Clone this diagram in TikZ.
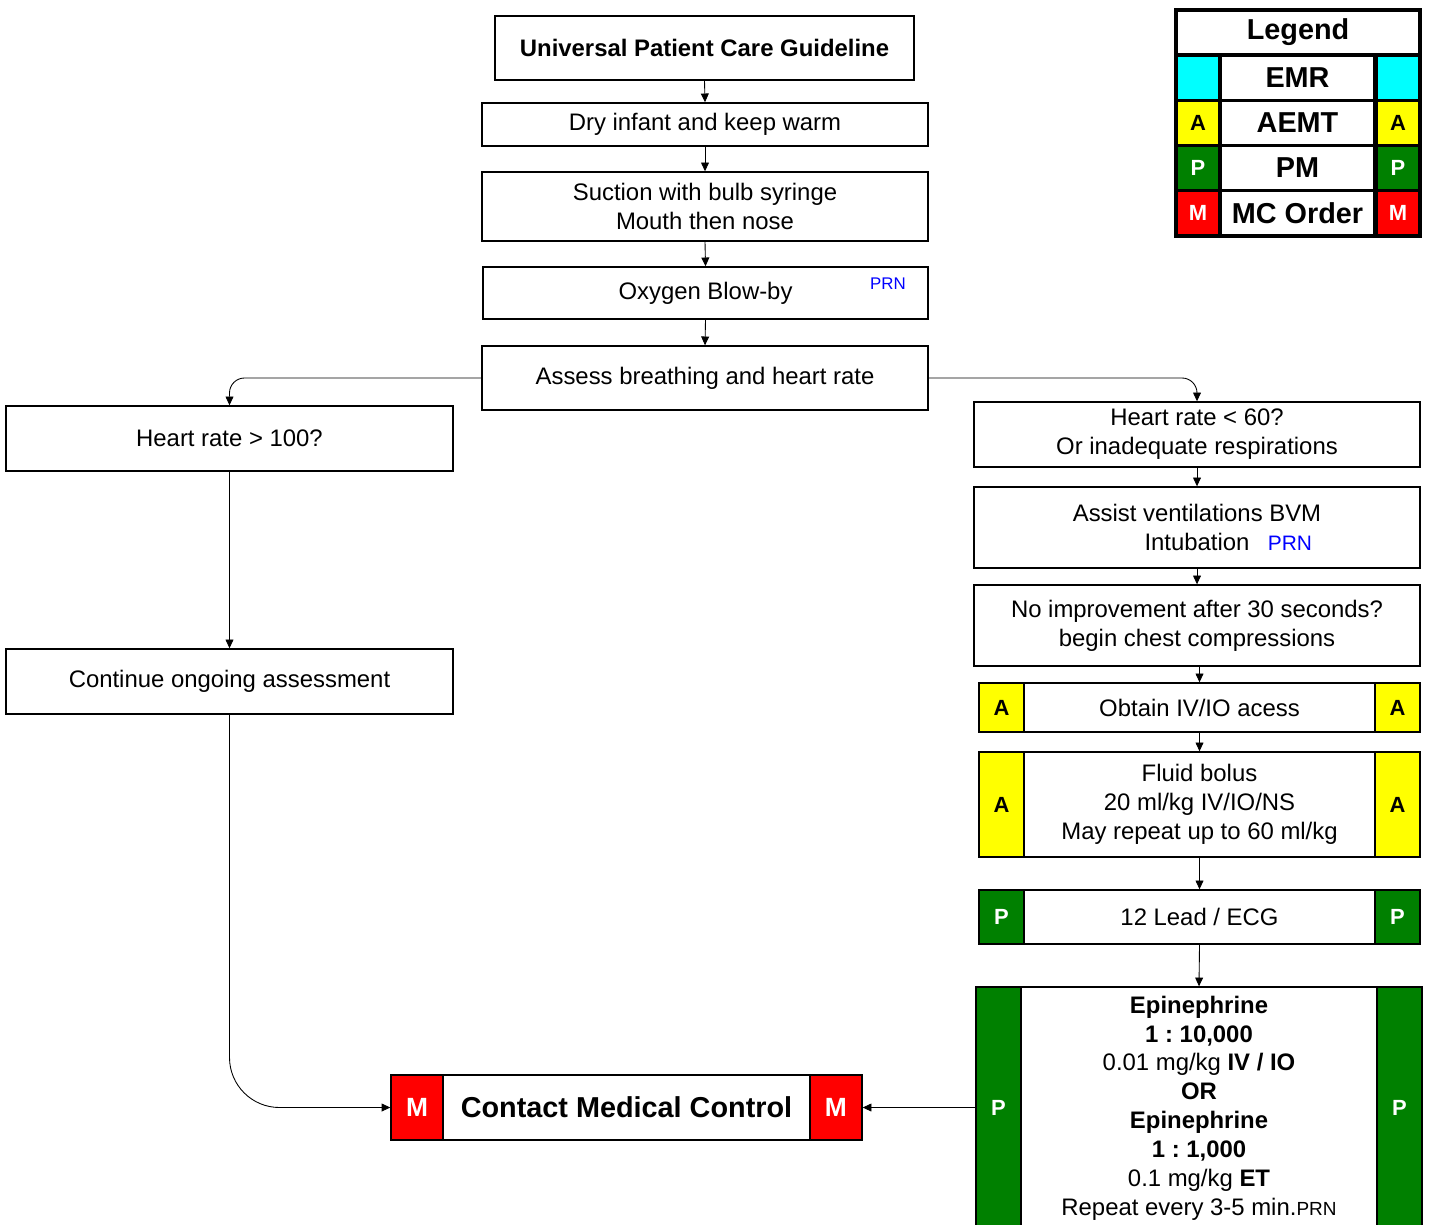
\documentclass[tikz,border=0pt]{standalone}
\usepackage{fontspec}
\setmainfont{Liberation Sans}
\usepackage{tikz}
\usetikzlibrary{arrows.meta}
\frenchspacing

\definecolor{emrcyan}{RGB}{0,255,255}
\definecolor{aemtyellow}{RGB}{255,255,0}
\definecolor{pmgreen}{RGB}{0,128,0}
\definecolor{mcred}{RGB}{255,0,0}
\definecolor{prnblue}{RGB}{0,0,255}

\newcommand{\basefont}{\fontsize{13.6}{16.4}\selectfont}
\newcommand{\bigfont}{\fontsize{16.4}{19.5}\selectfont\bfseries}
\newcommand{\tagfont}{\fontsize{12.5}{15}\selectfont\bfseries}
\newcommand{\prnfont}{\fontsize{9.6}{11}\selectfont}

\tikzset{
	box/.style = {draw, line width = 0.8pt, fill = white, align = center, font = \basefont, inner sep = 2pt},
	tag/.style = {draw, line width = 0.8pt, font = \tagfont, inner sep = 0pt},
	tagA/.style = {tag, fill = aemtyellow, text = black},
	tagP/.style = {tag, fill = pmgreen, text = white},
	tagM/.style = {tag, fill = mcred, text = white},
	arr/.style = {-{Triangle[length = 5pt, width = 4.5pt]}, line width = 0.5pt},
	prn/.style = {text = prnblue, inner sep = 0pt},
	legcell/.style = {fill = white, font = \bigfont, inner sep = 0pt, minimum width = 3.02cm, minimum height = 0.84cm},
	legtag/.style = {font = \tagfont, inner sep = 0pt, minimum width = 0.8cm, minimum height = 0.84cm}
}

\begin{document}
\begin{tikzpicture}[x = 0.02cm, y = -0.02cm]
\useasboundingbox (0,0) rectangle (1429,1224);

% centre column
\node[box, font = \basefont\bfseries, minimum width = 8.38cm, minimum height = 1.28cm] (guide) at (704.5,48) {Universal Patient Care Guideline};
\node[box, minimum width = 8.92cm, minimum height = 0.86cm] (dry) at (705,124.5) {Dry infant and keep warm};
\node[box, minimum width = 8.92cm, minimum height = 1.38cm] (suction) at (705,206.5) {Suction with bulb syringe\\Mouth then nose};
\node[box, minimum width = 8.9cm, minimum height = 1.04cm] (oxygen) at (705.5,293) {Oxygen Blow-by};
\node[prn, font = \prnfont] (oxyprn) at (888,284) {PRN};
\node[box, minimum width = 8.92cm, minimum height = 1.28cm] (assess) at (705,378) {Assess breathing and heart rate};

\draw[arr] (guide.south) -- (dry.north);
\draw[arr] (dry.south) -- (suction.north);
\draw[arr] (suction.south) -- (oxygen.north);
\draw[arr] (oxygen.south) -- (assess.north);

% left branch
\node[box, minimum width = 8.94cm, minimum height = 1.3cm] (hrhigh) at (229.5,438.5) {Heart rate > 100?};
\node[box, minimum width = 8.94cm, minimum height = 1.3cm] (cont) at (229.5,681.5) {Continue ongoing assessment};

\draw[arr, rounded corners = 0.3cm] (assess.west) -| (hrhigh.north);
\draw[arr] (hrhigh.south) -- (cont.north);

% right branch
\node[box, minimum width = 8.92cm, minimum height = 1.3cm] (hrlow) at (1197,434.5) {Heart rate < 60?\\Or inadequate respirations};
\node[box, minimum width = 8.92cm, minimum height = 1.62cm] (assist) at (1197,527.5) {Assist ventilations BVM\\Intubation};
\node[prn, font = \fontsize{11.9}{14}\selectfont] (assistprn) at (1290,543) {PRN};
\node[box, minimum width = 8.92cm, minimum height = 1.62cm] (noimp) at (1197,625.5) {No improvement after 30 seconds?\\begin chest compressions};

\node[box, minimum width = 8.82cm, minimum height = 0.98cm] (obtain) at (1199.5,707.5) {Obtain IV/IO acess};
\node[tagA, minimum width = 0.9cm, minimum height = 0.98cm, anchor = west] (obtainL) at (obtain.west) {A};
\node[tagA, minimum width = 0.9cm, minimum height = 0.98cm, anchor = east] (obtainR) at (obtain.east) {A};

\node[box, minimum width = 8.82cm, minimum height = 2.1cm] (fluid) at (1199.5,804.5) {Fluid bolus\\20 ml/kg IV/IO/NS\\May repeat up to 60 ml/kg};
\node[tagA, minimum width = 0.9cm, minimum height = 2.1cm, anchor = west] (fluidL) at (fluid.west) {A};
\node[tagA, minimum width = 0.9cm, minimum height = 2.1cm, anchor = east] (fluidR) at (fluid.east) {A};

\node[box, minimum width = 8.82cm, minimum height = 1.08cm] (ecg) at (1199.5,917) {12 Lead / ECG};
\node[tagP, minimum width = 0.9cm, minimum height = 1.08cm, anchor = west] (ecgL) at (ecg.west) {P};
\node[tagP, minimum width = 0.9cm, minimum height = 1.08cm, anchor = east] (ecgR) at (ecg.east) {P};

\node[box, minimum width = 8.92cm, minimum height = 4.84cm] (epi) at (1199,1108) {\textbf{Epinephrine}\\\textbf{1 : 10,000}\\0.01 mg/kg \textbf{IV / IO}\\\textbf{OR}\\\textbf{Epinephrine}\\\textbf{1 : 1,000}\\0.1 mg/kg \textbf{ET}\\Repeat every 3-5 min.{\fontsize{10.8}{13}\selectfont PRN}};
\node[tagP, minimum width = 0.9cm, minimum height = 4.84cm, anchor = west] (epiL) at (epi.west) {P};
\node[tagP, minimum width = 0.9cm, minimum height = 4.84cm, anchor = east] (epiR) at (epi.east) {P};

\draw[arr] (hrlow.south) -- (assist.north);
\draw[arr] (assist.south) -- (noimp.north);
\draw[arr] (noimp.south -| obtain.north) -- (obtain.north);
\draw[arr] (obtain.south) -- (fluid.north);
\draw[arr] (fluid.south) -- (ecg.north);
\draw[arr] (ecg.south) -- (epi.north);
\draw[arr, rounded corners = 0.3cm] (assess.east) -| (hrlow.north);

% medical control
\node[box, font = \bigfont, minimum width = 9.42cm, minimum height = 1.3cm] (contact) at (626.5,1107.5) {Contact Medical Control};
\node[tagM, font = \fontsize{15}{18}\selectfont\bfseries, minimum width = 1.04cm, minimum height = 1.3cm, anchor = west] (contactL) at (contact.west) {M};
\node[tagM, font = \fontsize{15}{18}\selectfont\bfseries, minimum width = 1.04cm, minimum height = 1.3cm, anchor = east] (contactR) at (contact.east) {M};

\draw[arr, rounded corners = 1cm] (cont.south) |- (contact.west);
\draw[arr] (epi.west |- contact.east) -- (contact.east);

% legend
\fill[black] (1174,8) rectangle (1422,238);
\node[legcell, minimum width = 4.8cm, minimum height = 0.82cm] (legtitle) at (1298,32.5) {Legend};
\foreach \yy/\col/\lt/\tc/\lab [count = \i] in {78/emrcyan//black/EMR, 123/aemtyellow/A/black/AEMT, 168/pmgreen/P/white/PM, 213/mcred/M/white/MC Order}
{
	\node[legtag, fill = \col, text = \tc] (legL\i) at (1198,\yy) {\lt};
	\node[legcell] (leg\i) at (1297.5,\yy) {\lab};
	\node[legtag, fill = \col, text = \tc] (legR\i) at (1398,\yy) {\lt};
}
\end{tikzpicture}
\end{document}
